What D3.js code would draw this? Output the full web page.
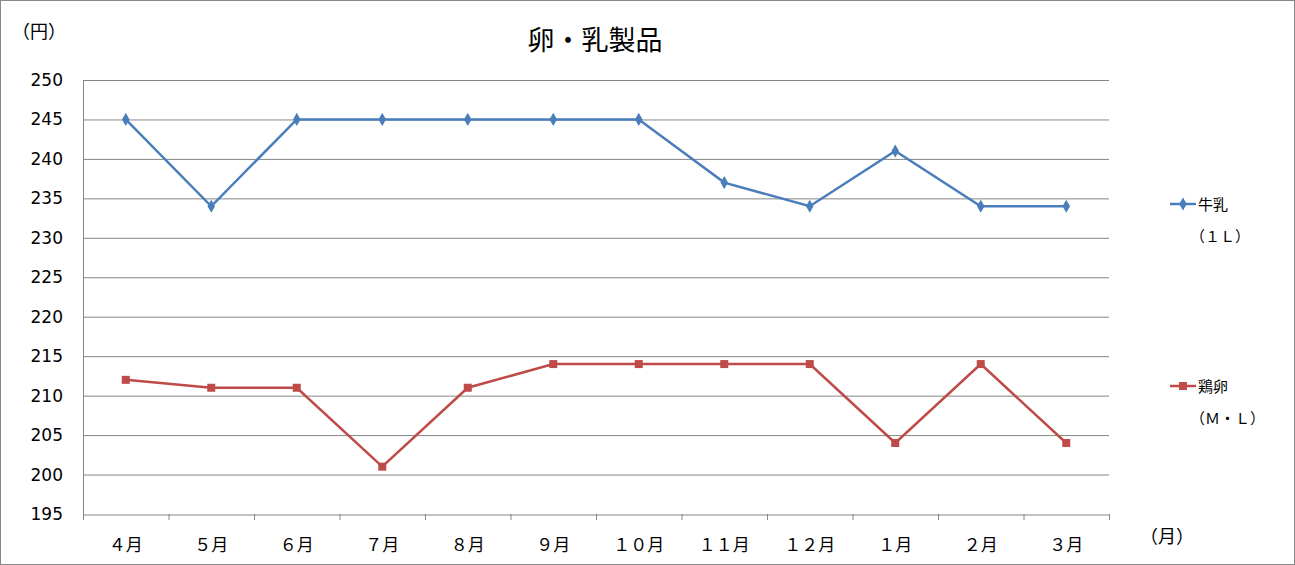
<!DOCTYPE html>
<html><head><meta charset="utf-8">
<script src="https://cdn.jsdelivr.net/npm/d3@7"></script>
<style>body{margin:0;background:#fff}svg{display:block;font-family:"Noto Sans CJK JP",sans-serif}</style>
</head><body><div id="chart"></div>
<script>
// データ
const months = ["４月","５月","６月","７月","８月","９月","１０月","１１月","１２月","１月","２月","３月"];
const milk = [245,234,245,245,245,245,245,237,234,241,234,234];
const eggs = [212,211,211,201,211,214,214,214,214,204,214,204];
const yTicks = [195,200,205,210,215,220,225,230,235,240,245,250];

const W = 1295, H = 565;
const svg = d3.select("#chart").append("svg").attr("width", W).attr("height", H);

svg.append("rect").attr("x",0.5).attr("y",0.5).attr("width",W-1).attr("height",H-1)
  .attr("fill","#fff").attr("stroke","#888");

const x = d3.scaleBand().domain(months).range([83,1109]);
const y = d3.scaleLinear().domain([195,250]).range([514,80]);

// グリッド線
svg.append("g").selectAll("line").data(yTicks.slice(1)).join("line")
  .attr("x1",83).attr("x2",1109).attr("y1",d=>y(d)+0.5).attr("y2",d=>y(d)+0.5)
  .attr("stroke","#868686");

// 軸
svg.append("line").attr("x1",83.5).attr("x2",83.5).attr("y1",80).attr("y2",514).attr("stroke","#868686");
const xAxis = svg.append("g").attr("transform","translate(0,514.5)")
  .call(d3.axisBottom(x).tickSize(0).tickPadding(24));
xAxis.select(".domain").attr("stroke","#868686");
xAxis.selectAll("text").attr("font-size",17).attr("fill","#000").attr("font-family","Noto Sans CJK JP");
svg.append("g").selectAll("line").data(months.concat([null])).join("line")
  .attr("x1",(d,i)=>83+i*x.bandwidth()+0.5).attr("x2",(d,i)=>83+i*x.bandwidth()+0.5)
  .attr("y1",514).attr("y2",520).attr("stroke","#868686");

svg.append("g").selectAll("text").data(yTicks).join("text")
  .attr("x",63).attr("y",d=>y(d)+6).attr("text-anchor","end")
  .attr("font-size",17).attr("font-family","Verdana, DejaVu Sans, sans-serif").text(d=>d);

const cx = (d,i)=>x(months[i])+x.bandwidth()/2;
const line = d3.line().x((d,i)=>cx(d,i)).y(d=>y(d));

// 牛乳
svg.append("path").datum(milk).attr("d",line).attr("fill","none").attr("stroke","#4a7ebb").attr("stroke-width",2.5);
svg.append("g").selectAll("path").data(milk).join("path")
  .attr("d",d3.symbol(d3.symbolDiamond,50))
  .attr("transform",(d,i)=>`translate(${cx(d,i)},${y(d)}) rotate(0)`).attr("fill","#4a7ebb");

// 鶏卵
svg.append("path").datum(eggs).attr("d",line).attr("fill","none").attr("stroke","#be4b48").attr("stroke-width",2.5);
svg.append("g").selectAll("rect").data(eggs).join("rect")
  .attr("x",(d,i)=>cx(d,i)-4).attr("y",d=>y(d)-4).attr("width",8).attr("height",8).attr("fill","#be4b48");

// 凡例
svg.append("line").attr("x1",1170).attr("x2",1196).attr("y1",204).attr("y2",204).attr("stroke","#4a7ebb").attr("stroke-width",2.5);
svg.append("path").attr("d",d3.symbol(d3.symbolDiamond,50)).attr("transform","translate(1183,204)").attr("fill","#4a7ebb");
svg.append("line").attr("x1",1170).attr("x2",1196).attr("y1",386).attr("y2",386).attr("stroke","#be4b48").attr("stroke-width",2.5);
svg.append("rect").attr("x",1179).attr("y",382).attr("width",8).attr("height",8).attr("fill","#be4b48");
const leg = [["牛乳",1198,210],["（１Ｌ）",1190,242],["鶏卵",1198,392],["（Ｍ・Ｌ）",1190,424]];
svg.append("g").selectAll("text").data(leg).join("text")
  .attr("x",d=>d[1]).attr("y",d=>d[2]).attr("font-size",15).text(d=>d[0]);

// タイトル・単位
svg.append("text").attr("x",595).attr("y",50).attr("text-anchor","middle").attr("font-size",27).text("卵・乳製品");
svg.append("text").attr("x",20).attr("y",38).attr("font-size",18).text("（円）").attr("dx",-8);
svg.append("text").attr("x",1140).attr("y",543).attr("font-size",18).text("（月）");
</script></body></html>
